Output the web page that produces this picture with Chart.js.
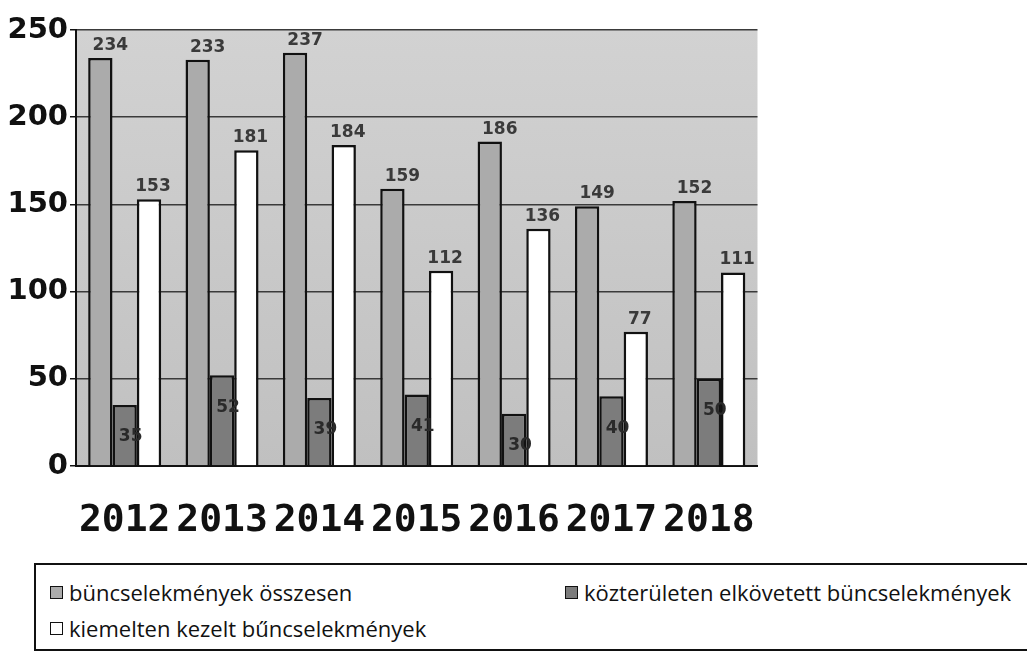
<!DOCTYPE html>
<html>
<head>
<meta charset="utf-8">
<script src="https://cdn.jsdelivr.net/npm/chart.js@4.4.1/dist/chart.umd.min.js"></script>
<style>
  html, body { margin: 0; padding: 0; background: #fff; width: 1027px; height: 663px; overflow: hidden; }
  #wrap { position: absolute; left: 0; top: 0; width: 780px; height: 548px; }
  #legend {
    position: absolute; left: 34px; top: 563px; width: 1000px; height: 88px;
    border: 2px solid #111; box-sizing: border-box;
    font-family: "Open Sans", "DejaVu Sans", sans-serif; font-size: 22px; color: #111;
  }
  .item { position: absolute; display: flex; align-items: center; white-space: nowrap; }
  .sw { width: 13px; height: 13px; border: 1.5px solid #111; margin-right: 6px; box-sizing: border-box; }
</style>
</head>
<body>
<div id="wrap"><canvas id="main-chart"></canvas></div>
<div id="legend"></div>
<script>
// ── Data ──────────────────────────────────────────────────────────────────────
const YEARS = ["2012", "2013", "2014", "2015", "2016", "2017", "2018"];
const TOTAL = [234, 233, 237, 159, 186, 149, 152];       // bűncselekmények összesen
const PUBLIC_PLACE = [35, 52, 39, 41, 30, 40, 50];        // közterületen elkövetett
const PRIORITY = [153, 181, 184, 112, 136, 77, 111];      // kiemelten kezelt
const Y_TICKS = [0, 50, 100, 150, 200, 250];

const SERIES = [
  { label: "büncselekmények összesen", values: TOTAL, color: "#ababab", legendPos: [14, 16] },
  { label: "közterületen elkövetett büncselekmények", values: PUBLIC_PLACE, color: "#7c7c7c", legendPos: [529, 16] },
  { label: "kiemelten kezelt bűncselekmények", values: PRIORITY, color: "#ffffff", legendPos: [14, 52] },
];

// ── Plugins ───────────────────────────────────────────────────────────────────
const plotBg = {
  id: "plotBg",
  beforeDraw(chart) {
    const { ctx, chartArea: a } = chart;
    const g = ctx.createLinearGradient(0, a.top, 0, a.bottom);
    g.addColorStop(0, "#d2d2d2");
    g.addColorStop(1, "#c0c0c0");
    ctx.save();
    ctx.fillStyle = g;
    ctx.fillRect(a.left, a.top, a.right - a.left, a.bottom - a.top);
    ctx.restore();
  },
};

const valueLabels = {
  id: "valueLabels",
  afterDatasetsDraw(chart) {
    const { ctx } = chart;
    ctx.save();
    ctx.font = "bold 17px 'DejaVu Sans', sans-serif";
    ctx.textAlign = "center";
    chart.data.datasets.forEach((ds, i) => {
      chart.getDatasetMeta(i).data.forEach((bar, j) => {
        const v = ds.data[j];
        if (i === 1) {
          ctx.fillStyle = "#2a2a2a";
          ctx.textBaseline = "middle";
          ctx.fillText(v, bar.x + 6, bar.y + 32);
        } else {
          ctx.fillStyle = "#3a3a3a";
          ctx.textBaseline = "bottom";
          ctx.fillText(v, bar.x + (i === 0 ? 10 : 4), bar.y - 4);
        }
      });
    });
    ctx.restore();
  },
};

// ── Chart ─────────────────────────────────────────────────────────────────────
function renderChart() {
  const ctx = document.getElementById("main-chart");
  new Chart(ctx, {
    type: "bar",
    data: {
      labels: YEARS,
      datasets: SERIES.map(s => ({
        label: s.label,
        data: s.values,
        backgroundColor: s.color,
        borderColor: "#111",
        borderWidth: 2.5,
        borderSkipped: "bottom",
        categoryPercentage: 0.75,
        barPercentage: 1.0,
      })),
    },
    options: {
      responsive: true,
      maintainAspectRatio: false,
      animation: false,
      layout: { padding: { top: 30, right: 20, left: 0, bottom: 0 } },
      plugins: { legend: { display: false }, tooltip: { enabled: false } },
      scales: {
        x: {
          grid: { display: false },
          border: { color: "#111", width: 2 },
          ticks: {
            color: "#111", font: { family: "'DejaVu Sans Mono', monospace", size: 38, weight: "bold" },
            padding: 24, maxRotation: 0, minRotation: 0, autoSkip: false,
          },
          afterFit(scale) { scale.height = 82; },
        },
        y: {
          min: 0, max: 250,
          afterBuildTicks(scale) { scale.ticks = Y_TICKS.map(v => ({ value: v })); },
          grid: { color: "#3a3a3a", lineWidth: 1.5, tickLength: 6, tickColor: "#111" },
          border: { color: "#111", width: 2 },
          ticks: { color: "#111", font: { family: "'DejaVu Sans', sans-serif", size: 29, weight: "bold" }, padding: 2 },
          afterFit(scale) { scale.width = 76; },
        },
      },
    },
    plugins: [plotBg, valueLabels],
  });
}

// ── Legend ────────────────────────────────────────────────────────────────────
function renderLegend() {
  const box = document.getElementById("legend");
  box.innerHTML = SERIES.map(s =>
    `<div class="item" style="left:${s.legendPos[0]}px;top:${s.legendPos[1] - 4}px">` +
    `<span class="sw" style="background:${s.color}"></span>${s.label}</div>`
  ).join("");
}

document.addEventListener("DOMContentLoaded", () => { renderChart(); renderLegend(); });
</script>
</body>
</html>
